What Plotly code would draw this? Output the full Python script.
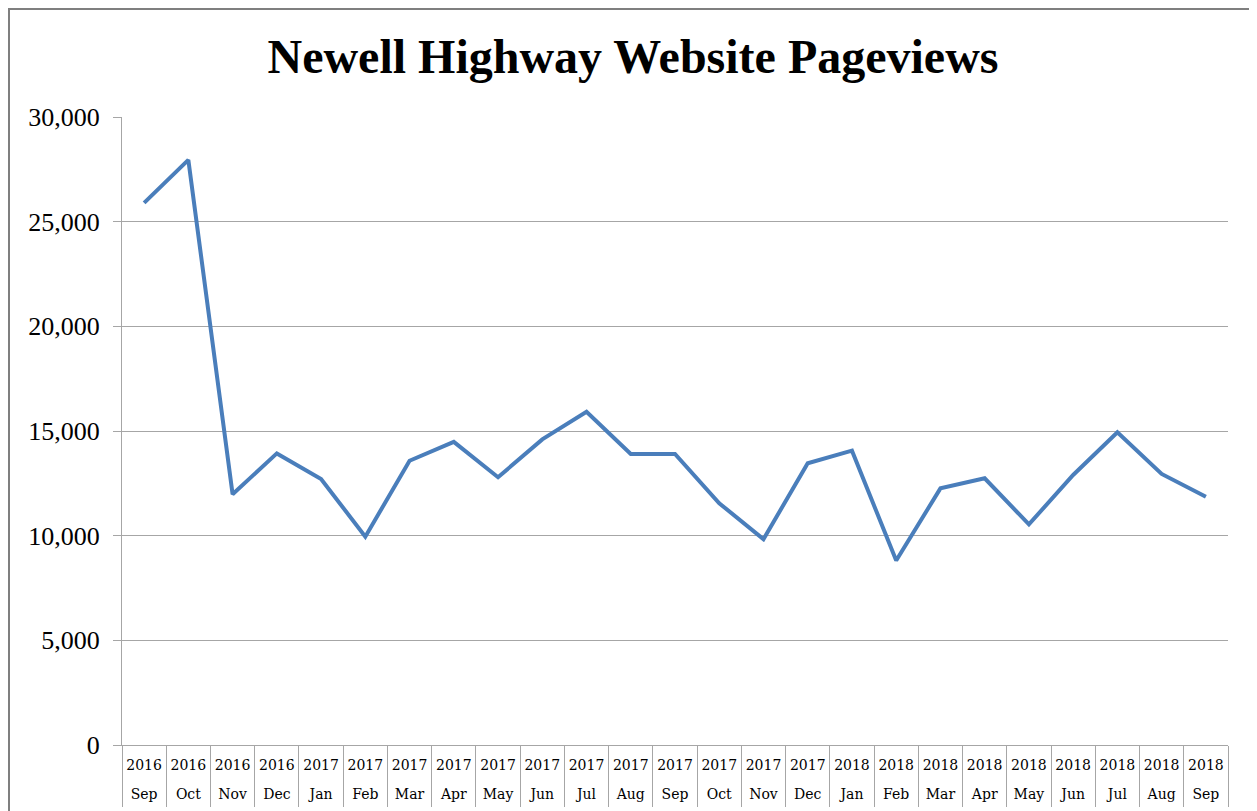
import plotly.graph_objects as go

years = ["2016", "2016", "2016", "2016",
         "2017", "2017", "2017", "2017", "2017", "2017", "2017", "2017", "2017", "2017", "2017", "2017",
         "2018", "2018", "2018", "2018", "2018", "2018", "2018", "2018", "2018"]
months = ["Sep", "Oct", "Nov", "Dec",
          "Jan", "Feb", "Mar", "Apr", "May", "Jun", "Jul", "Aug", "Sep", "Oct", "Nov", "Dec",
          "Jan", "Feb", "Mar", "Apr", "May", "Jun", "Jul", "Aug", "Sep"]
pageviews = [25900, 27950, 11980, 13930,
             12710, 9950, 13580, 14480, 12790, 14600, 15920, 13900, 13900, 11550, 9830, 13460,
             14060, 8810, 12260, 12740, 10540, 12900, 14940, 12950, 11860]
y_ticks = [0, 5000, 10000, 15000, 20000, 25000, 30000]

categories = [f"{y} {m}" for y, m in zip(years, months)]

SERIF = "Liberation Serif, Times New Roman, serif"
CAT_FONT = "DejaVu Serif, serif"
GRID = "#a6a6a6"

# figure sits at an 8px body offset in the page
W, H = 1249, 803
ML, MR, MT, MB = 114, 29, 109, 66
PW = W - ML - MR
PH = H - MT - MB

fig = go.Figure()
fig.add_trace(go.Scatter(
    x=categories, y=pageviews, mode="lines",
    line=dict(color="#4a7ebb", width=4),
    showlegend=False, hoverinfo="x+y",
))
fig.add_trace(go.Scatter(
    x=categories, y=pageviews, mode="lines", xaxis="x2",
    line=dict(width=0), opacity=0, showlegend=False, hoverinfo="skip",
))

fig.update_layout(
    width=W, height=H,
    margin=dict(l=ML, r=MR, t=MT, b=MB, autoexpand=False),
    paper_bgcolor="white", plot_bgcolor="white",
    title=dict(
        text="<b>Newell Highway Website Pageviews</b>",
        x=625 / W, xref="container", xanchor="center",
        y=1 - 48.5 / H, yref="container", yanchor="middle",
        font=dict(family=SERIF, size=48, color="black"),
    ),
    xaxis=dict(
        type="category", categoryorder="array", categoryarray=categories,
        range=[-0.5, len(categories) - 0.5],
        tickmode="array", tickvals=categories, ticktext=years, tickangle=0,
        ticks="outside", tickson="boundaries", ticklen=61, tickwidth=1, tickcolor=GRID,
        showline=True, linecolor=GRID, linewidth=1,
        showgrid=False, zeroline=False, automargin=False,
        tickfont=dict(family=CAT_FONT, size=14, color="black"),
        ticklabelstandoff=7,
        fixedrange=True,
    ),
    xaxis2=dict(
        type="category", categoryorder="array", categoryarray=categories,
        overlaying="x", anchor="y", side="bottom",
        range=[-0.5, len(categories) - 0.5],
        tickmode="array", tickvals=categories, ticktext=months, tickangle=0,
        ticks="", showline=False, showgrid=False, zeroline=False, automargin=False,
        tickfont=dict(family=CAT_FONT, size=14, color="black"),
        ticklabelstandoff=39,
        fixedrange=True,
    ),
    yaxis=dict(
        range=[0, 30000], tickmode="array", tickvals=y_ticks,
        tickformat=",d",
        showgrid=True, gridcolor=GRID, gridwidth=1,
        showline=True, linecolor=GRID, linewidth=1,
        ticks="outside", ticklen=8, tickcolor=GRID, tickwidth=1,
        zeroline=False, automargin=False,
        tickfont=dict(family=SERIF, size=26, color="black"),
        ticklabelstandoff=8,
        fixedrange=True,
    ),
    shapes=[dict(
        type="rect", xref="paper", yref="paper",
        x0=(1 - ML) / PW, x1=(1245 - ML) / PW,
        y0=-0.3, y1=(PH + MT - 1) / PH,
        line=dict(color="#7f7f7f", width=2), fillcolor="rgba(0,0,0,0)",
        layer="below",
    )],
)

fig.write_html("out.html")
